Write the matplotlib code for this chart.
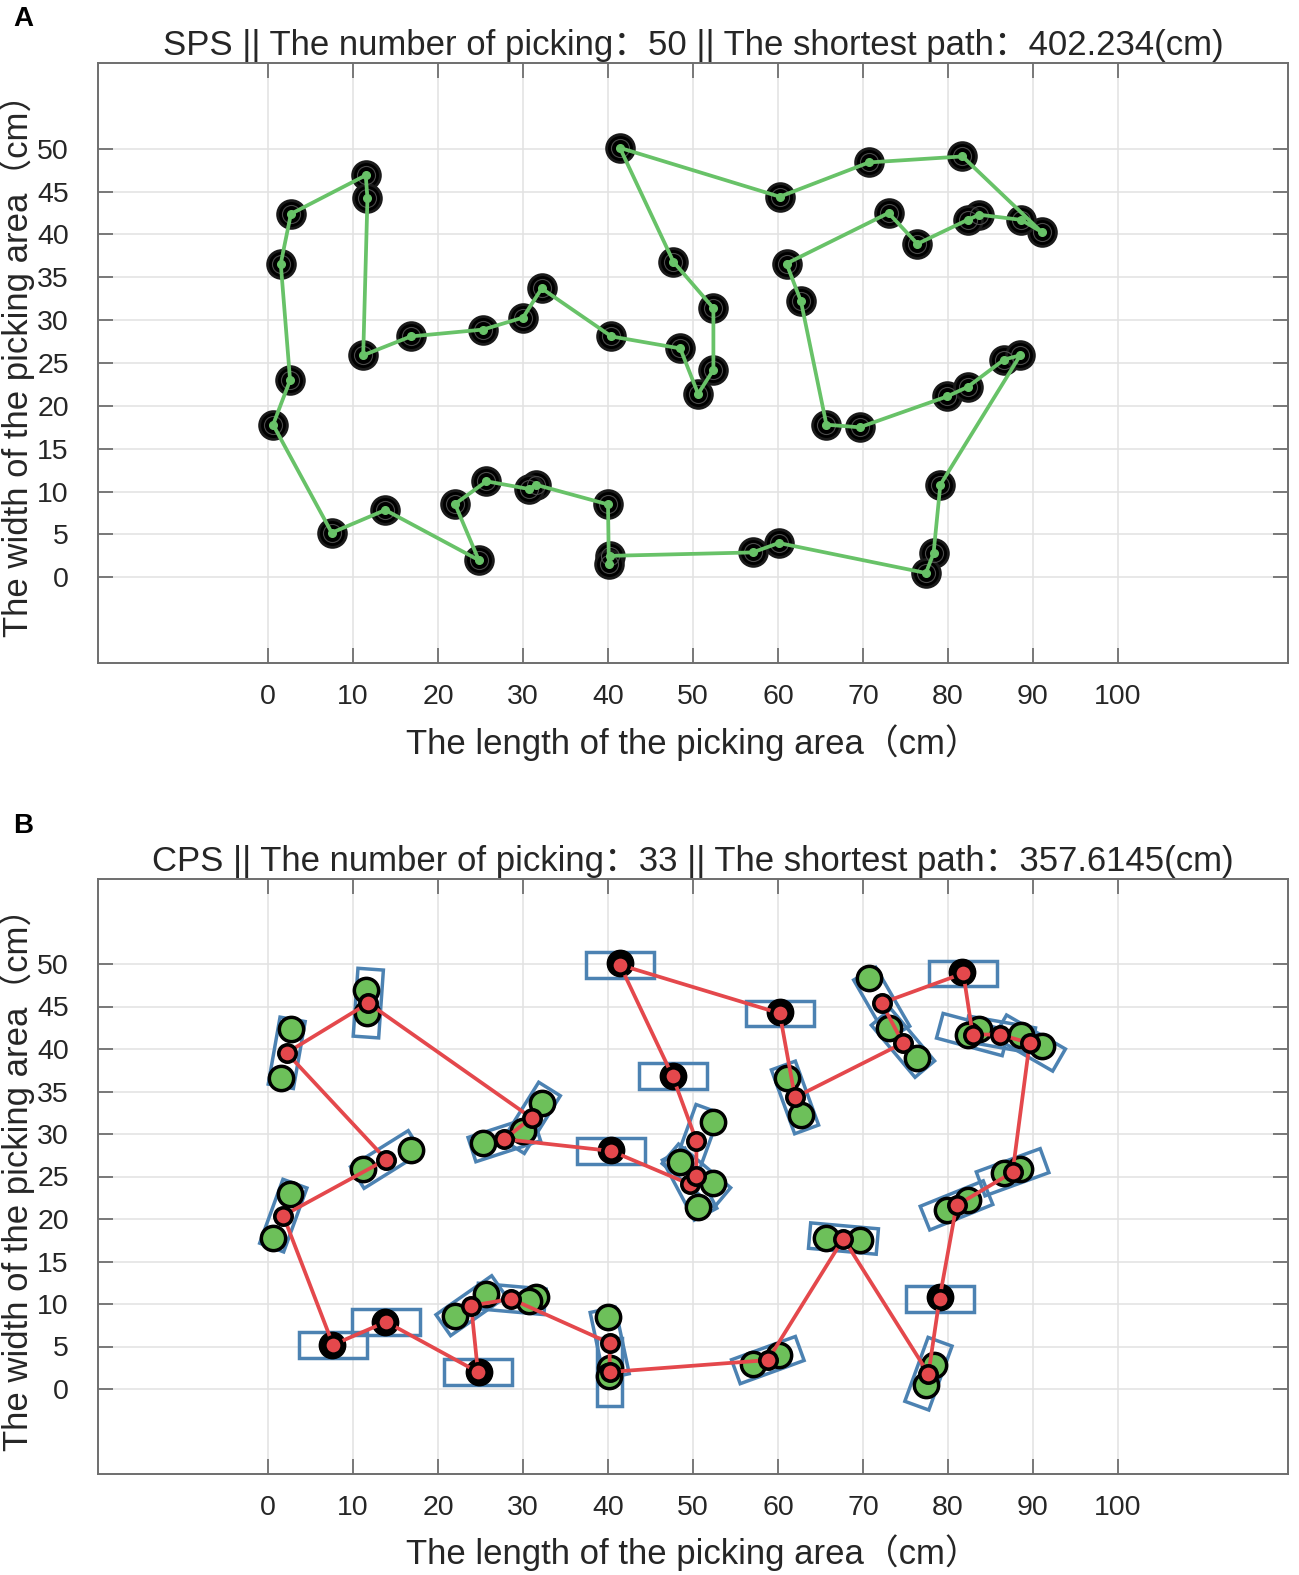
import numpy as np
import matplotlib
matplotlib.use("Agg")
import matplotlib.pyplot as plt
from matplotlib.patches import Rectangle

# pick points (cm), in SPS route order
pick_x = [41.4, 60.2, 70.7, 81.7, 91.0, 88.6, 83.7, 82.3, 76.4, 73.0,
          61.0, 62.7, 65.7, 69.6, 79.9, 82.3, 86.6, 88.5, 79.1, 78.3,
          77.4, 60.1, 57.0, 40.2, 40.1, 40.0, 31.5, 30.7, 25.7, 22.0,
          24.8, 13.8, 7.5, 0.6, 2.6, 1.5, 2.7, 11.5, 11.7, 11.2,
          16.8, 25.3, 30.0, 32.2, 40.4, 48.5, 50.6, 52.4, 52.4, 47.7]
pick_y = [50.1, 44.4, 48.4, 49.1, 40.3, 41.7, 42.3, 41.7, 38.9, 42.5,
          36.6, 32.2, 17.8, 17.5, 21.1, 22.2, 25.4, 25.9, 10.8, 2.8,
          0.5, 4.0, 2.9, 2.5, 1.5, 8.5, 10.8, 10.3, 11.2, 8.55,
          2.0, 7.85, 5.2, 17.8, 23.0, 36.6, 42.4, 46.9, 44.2, 25.9,
          28.1, 28.9, 30.3, 33.7, 28.1, 26.7, 21.4, 24.2, 31.4, 36.8]

# points picked alone in CPS (0-based index into pick_x)
single_idx = [0, 1, 3, 18, 30, 31, 32, 44, 49]

# CPS route: cluster centres and the tilt of each picking box (deg)
cps_x = [41.4, 60.2, 62.0, 74.7, 72.2, 81.8, 82.9, 86.1, 89.6, 87.6, 81.0,
         79.0, 77.7, 67.7, 58.8, 40.2, 40.2, 28.6, 23.9, 24.7, 13.9, 7.65,
         1.8, 13.9, 2.2, 11.8, 31.0, 27.8, 40.4, 49.6, 50.4, 50.4, 47.6]
cps_y = [49.9, 44.2, 34.3, 40.7, 45.4, 48.9, 41.7, 41.7, 40.7, 25.5, 21.6,
         10.6, 1.8, 17.7, 3.4, 2.0, 5.4, 10.6, 9.8, 2.0, 7.9, 5.2,
         20.4, 27.0, 39.55, 45.4, 31.9, 29.4, 28.0, 24.1, 25.1, 29.2, 36.8]
cps_ang = [0, 0, -70, -50, -60, 0, -15, -10, -30, 20, 22,
           0, 70, -5, 20, 90, -78, -5, 35, 0, 0, 0,
           70, 32, 80, 86, 58, 18, 0, -62, -40, 70, 0]

titles = ["SPS || The number of picking：50 || The shortest path：402.234(cm)",
          "CPS || The number of picking：33 || The shortest path：357.6145(cm)"]
xlab = "The length of the picking area（cm）"
ylab = "The width of the picking area（cm）"

fonts = ["Liberation Sans", "Noto Sans CJK SC"]
plt.rcParams["font.family"] = fonts

green = "#68c268"
gdot = "#6dc05a"
red = "#e4484c"
blue = "#4c82b2"
txt = "#262626"
box_len, box_w = 8.0, 3.0


def style_axes(ax, title, xlab_y):
    ax.set_xlim(-20, 120)
    ax.set_ylim(-10, 60)
    ax.set_xticks(np.arange(0, 101, 10))
    ax.set_yticks(np.arange(0, 51, 5))
    ax.grid(True, color="#e2e2e2", lw=1.1, zorder=0)
    ax.set_axisbelow(True)
    ax.tick_params(direction="in", length=11, width=1.2, top=True, right=True,
                   color="#666666", labelcolor=txt, labelsize=20.5)
    ax.tick_params(axis="x", pad=15)
    ax.tick_params(axis="y", pad=21)
    for s in ax.spines.values():
        s.set_color("#6e6e6e")
        s.set_linewidth(1.4)
    ax.set_title(title, fontsize=25, color=txt, pad=6)
    ax.set_xlabel(xlab, fontsize=25, color=txt)
    ax.set_ylabel(ylab, fontsize=25, color=txt)
    ax.xaxis.set_label_coords(0.5, xlab_y)
    ax.yaxis.set_label_coords(-0.053, 0.51)


fig = plt.figure(figsize=(12.99, 15.75), dpi=100)
axA = fig.add_axes([98 / 1299, 1 - 663 / 1575, 1190 / 1299, 600 / 1575])
axB = fig.add_axes([98 / 1299, 1 - 1474 / 1575, 1190 / 1299, 595 / 1575])

# ---- A : SPS
px = np.array(pick_x)
py = np.array(pick_y)
loop_x = np.append(px, px[0])
loop_y = np.append(py, py[0])
axA.plot(px, py, "o", ms=20, mfc="black", mec="#1a1a1a", mew=2, zorder=2)
axA.plot(px, py, "o", ms=13, mfc="none", mec="#4a4a4a", mew=0.8, zorder=2)
axA.plot(loop_x, loop_y, color=green, lw=2.7, zorder=3)
axA.plot(px, py, "o", ms=5.5, color=green, zorder=4)
style_axes(axA, titles[0], -0.102)

# ---- B : CPS
for cx, cy, a in zip(cps_x, cps_y, cps_ang):
    axB.add_patch(Rectangle((cx - box_len / 2, cy - box_w / 2), box_len, box_w,
                            angle=a, rotation_point="center", fill=False,
                            ec=blue, lw=2.5, zorder=2))
grp = np.ones(len(px), dtype=bool)
grp[single_idx] = False
axB.plot(px[grp], py[grp], "o", ms=17.5, mfc=gdot, mec="black", mew=2.5, zorder=3)
axB.plot(px[~grp], py[~grp], "o", ms=19, mfc="black", mec="black", zorder=3)
cx = np.append(cps_x, cps_x[0])
cy = np.append(cps_y, cps_y[0])
axB.plot(cx, cy, color=red, lw=2.7, zorder=4)
axB.plot(cps_x, cps_y, "o", ms=12.5, mfc=red, mec="black", mew=2.6, zorder=5)
style_axes(axB, titles[1], -0.102)

fig.text(13 / 1299, 1 - 19 / 1575, "A", fontsize=20, fontweight="bold", va="center")
fig.text(13 / 1299, 1 - 826 / 1575, "B", fontsize=20, fontweight="bold", va="center")

fig.savefig("out.png", dpi=100)
